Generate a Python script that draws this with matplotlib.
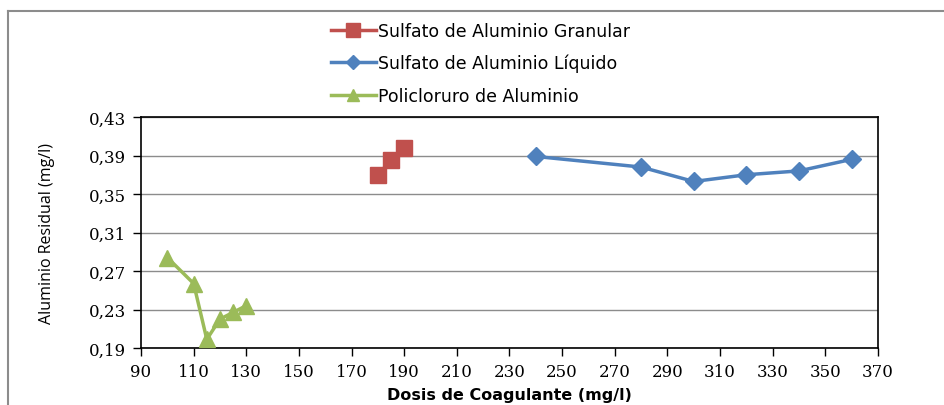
import matplotlib.pyplot as plt
from matplotlib.lines import Line2D

# data
granular_x = [180, 185, 190]
granular_y = [0.370, 0.385, 0.398]
liquido_x = [240, 280, 300, 320, 340, 360]
liquido_y = [0.389, 0.378, 0.363, 0.370, 0.374, 0.386]
pac_x = [100, 110, 115, 120, 125, 130]
pac_y = [0.284, 0.257, 0.199, 0.220, 0.227, 0.234]

x_ticks = list(range(90, 371, 20))
y_ticks = [0.19, 0.23, 0.27, 0.31, 0.35, 0.39, 0.43]
y_labels = ["0,19", "0,23", "0,27", "0,31", "0,35", "0,39", "0,43"]

red = "#c0504d"
blue = "#4f81bd"
green = "#9bbb59"

fig = plt.figure(figsize=(9.45, 4.06), dpi=100)
ax = fig.add_axes([141 / 945, 1 - 349 / 406, (878 - 141) / 945, (349 - 118) / 406])

ax.plot(pac_x, pac_y, color=green, lw=2.5, marker="^", ms=11, zorder=3)
ax.plot(granular_x, granular_y, color=red, lw=2.5, marker="s", ms=12, zorder=3)
ax.plot(liquido_x, liquido_y, color=blue, lw=2.5, marker="D", ms=9, zorder=3)

ax.set_xlim(90, 370)
ax.set_ylim(0.19, 0.43)
ax.set_xticks(x_ticks)
ax.set_yticks(y_ticks)
ax.set_yticklabels(y_labels)
ax.grid(axis="y", color="#8c8c8c", lw=1)
ax.set_axisbelow(True)
for s in ax.spines.values():
    s.set_color("black")
    s.set_linewidth(1.2)
ax.tick_params(direction="out", length=6, width=1, color="black", labelsize=12, pad=5)
for lbl in ax.get_xticklabels() + ax.get_yticklabels():
    lbl.set_family("DejaVu Serif")
    lbl.set_color("black")

ax.set_xlabel("Dosis de Coagulante (mg/l)", family="DejaVu Sans", fontweight="bold",
              fontsize=11.5, labelpad=5)
ax.set_ylabel("Aluminio Residual (mg/l)", family="Open Sans", fontsize=11.5, labelpad=24)

handles = [
    Line2D([], [], color=red, lw=2.5, marker="s", ms=10),
    Line2D([], [], color=blue, lw=2.5, marker="D", ms=7),
    Line2D([], [], color=green, lw=2.5, marker="^", ms=9),
]
names = ["Sulfato de Aluminio Granular", "Sulfato de Aluminio Líquido",
         "Policloruro de Aluminio"]
fig.legend(handles, names, loc="upper left", bbox_to_anchor=(315 / 945, 1 - 7 / 406),
           frameon=False, prop={"family": "DejaVu Sans", "size": 12.5},
           handlelength=2.6, handletextpad=0.12, labelspacing=0.82)

# outer chart border (top and left only visible)
fig.add_artist(Line2D([8 / 945, 1], [1 - 12 / 406, 1 - 12 / 406], color="#8c8c8c", lw=1.5,
                      transform=fig.transFigure))
fig.add_artist(Line2D([8 / 945, 8 / 945], [0, 1 - 12 / 406], color="#8c8c8c", lw=1.5,
                      transform=fig.transFigure))

fig.savefig("out.png", dpi=100)
